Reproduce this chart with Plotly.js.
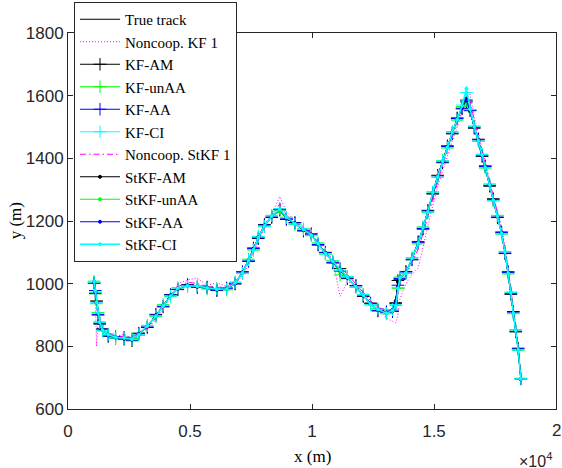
<!DOCTYPE html>
<html>
<head>
<meta charset="utf-8">
<script src="https://cdn.plot.ly/plotly-3.0.1.min.js"></script>
<style>html,body{margin:0;padding:0;background:#fff;}#chart{width:562px;height:468px;}</style>
</head>
<body>
<div id="chart"></div>
<script>
// ---- data ----
var trueX = [1070,1120,1170,1230,1300,1420,1650,1950,2300,2620,2900,3250,3600,3900,4200,4500,4900,5300,5700,6100,6500,6850,7150,7400,7600,7800,8050,8350,8680,8950,9300,9650,9970,10250,10550,10850,11150,11450,11800,12100,12400,12700,13050,13300,13430,13520,13600,13850,14100,14350,14550,14750,14950,15150,15350,15550,15750,15950,16150,16330,16480,16650,16820,16970,17100,17280,17430,17600,17770,17910,18040,18150,18250,18350,18450,18560];
var trueY = [1005,975,940,905,875,852,836,829,825,822,838,864,898,930,962,984,994,991,986,981,983,1002,1035,1075,1110,1148,1185,1215,1235,1209,1192,1172,1156,1127,1097,1070,1045,1020,991,963,935,917,907,915,935,990,1018,1035,1080,1130,1178,1230,1290,1342,1390,1436,1482,1525,1562,1588,1550,1500,1457,1410,1372,1315,1267,1215,1161,1100,1034,970,907,850,790,695];
var noncoopKF1Y = [1000,960,800,880,860,845,840,832,838,826,830,855,885,920,952,1000,1012,1018,995,1002,992,998,1025,1060,1100,1135,1180,1222,1278,1230,1200,1180,1160,1118,1092,1075,960,1005,1000,970,945,930,890,880,875,900,950,1000,1030,1050,1120,1190,1250,1310,1360,1410,1455,1500,1545,1590,1605,1530,1480,1430,1390,1330,1245,1230,1180,1120,1055,985,920,860,800,700];
var kfAMY = [1003,968,945,900,871,856,832,826,829,818,842,860,902,926,965,981,997,988,989,978,986,999,1038,1071,1114,1144,1189,1211,1238,1205,1195,1168,1159,1123,1100,1066,1048,1016,994,959,938,913,910,911,939,1010,1014,1039,1076,1134,1174,1234,1286,1346,1386,1440,1478,1529,1558,1580,1554,1496,1461,1406,1376,1311,1271,1211,1165,1096,1038,966,911,846,794,697];
var kfUnAAY = [1008,972,936,908,878,849,839,826,822,825,835,867,895,933,959,987,991,994,983,984,980,1005,1032,1078,1107,1151,1182,1218,1232,1212,1189,1175,1153,1130,1094,1073,1028,1023,988,966,932,920,904,918,931,985,1021,1032,1083,1127,1181,1227,1293,1339,1393,1433,1485,1522,1565,1584,1553,1503,1454,1413,1369,1318,1264,1218,1158,1103,1031,973,904,853,787,698];
var kfAAY = [1001,978,942,902,873,855,833,831,823,820,840,862,900,928,964,982,996,989,988,979,985,1000,1037,1073,1112,1146,1187,1213,1236,1207,1194,1170,1158,1125,1099,1068,1040,1018,993,961,937,915,909,913,937,995,1016,1037,1078,1132,1176,1232,1288,1344,1388,1438,1480,1527,1560,1586,1552,1498,1459,1408,1374,1313,1269,1213,1163,1098,1036,968,909,848,792,696];
var kfCIY = [1004,973,938,906,876,850,838,827,826,821,837,866,897,931,960,986,992,993,985,983,982,1004,1033,1076,1108,1150,1183,1217,1240,1211,1190,1174,1154,1129,1095,1072,1043,1022,989,965,933,919,905,917,933,988,1020,1033,1082,1128,1180,1228,1292,1340,1392,1434,1484,1523,1570,1610,1556,1502,1455,1412,1370,1317,1265,1217,1159,1102,1032,972,905,852,788,697];
var noncoopStKF1Y = [1006,980,930,895,868,858,842,835,830,826,845,858,890,925,958,990,1005,1000,992,988,990,1008,1030,1068,1104,1140,1178,1218,1255,1218,1198,1178,1162,1132,1105,1080,1052,1030,1000,972,945,925,915,905,915,960,1005,1025,1065,1110,1160,1215,1275,1330,1378,1425,1470,1512,1552,1582,1585,1520,1470,1425,1385,1328,1280,1228,1172,1112,1045,980,918,860,800,698];
var stkfAMY = [1004,974,941,904,874,853,835,828,825,821,839,863,899,929,963,983,995,990,987,980,984,1001,1036,1074,1111,1147,1186,1214,1234,1208,1193,1171,1157,1126,1098,1069,1046,1019,992,962,936,916,908,916,945,1005,1019,1036,1079,1131,1177,1231,1289,1343,1389,1437,1481,1526,1561,1590,1551,1499,1458,1409,1373,1314,1268,1214,1162,1099,1035,969,908,849,791,696];
var stkfUnAAY = [1005,976,939,906,876,851,837,829,826,822,837,865,897,931,961,985,993,992,985,982,982,1003,1034,1076,1109,1149,1184,1216,1230,1210,1191,1173,1155,1128,1096,1071,1044,1021,990,964,934,918,906,914,932,990,1017,1034,1081,1129,1179,1229,1291,1341,1391,1435,1483,1524,1563,1578,1549,1501,1456,1411,1371,1316,1266,1216,1160,1101,1033,971,906,851,789,696];
var stkfAAY = [1006,975,940,905,875,852,836,828,825,822,838,864,898,930,962,984,994,991,986,981,983,1002,1035,1075,1110,1148,1185,1215,1237,1209,1192,1172,1156,1127,1097,1070,1045,1020,991,963,935,917,907,915,936,992,1018,1035,1080,1130,1178,1230,1290,1342,1390,1436,1482,1525,1562,1585,1550,1500,1457,1410,1372,1315,1267,1215,1161,1100,1034,970,907,850,790,695];
var stkfCIY = [1007,977,941,907,877,851,837,829,827,823,837,865,896,929,960,985,993,992,986,982,983,1003,1034,1074,1108,1147,1184,1216,1238,1212,1191,1173,1155,1128,1096,1071,1045,1021,990,964,934,918,906,914,930,985,1019,1034,1081,1129,1179,1229,1291,1341,1391,1435,1483,1524,1568,1622,1557,1501,1456,1411,1371,1316,1266,1216,1160,1101,1033,971,906,851,789,696];

var seriesNames = ['True track','Noncoop. KF 1','KF-AM','KF-unAA','KF-AA','KF-CI','Noncoop. StKF 1','StKF-AM','StKF-unAA','StKF-AA','StKF-CI'];
var xTickVals = [0,5000,10000,15000,20000];
var xTickText = ['0','0.5','1','1.5','2'];
var yTickVals = [600,800,1000,1200,1400,1600,1800];
var xTitle = 'x (m)';
var yTitle = 'y (m)';
var xExponent = '×10<sup>4</sup>';

// ---- styles ----
var serif = 'Liberation Serif, Times New Roman, serif';
var sans = 'Liberation Sans, Arial, sans-serif';
function tr(name, y, color, dash, symbol, msize, width) {
  var t = {x: trueX, y: y, name: name, type: 'scatter',
    mode: symbol ? 'lines+markers' : 'lines',
    line: {color: color, width: width || 1, dash: dash || 'solid'}};
  if (symbol) {
    t.marker = {symbol: symbol, size: msize, color: color,
      line: {color: color, width: 1}};
  }
  return t;
}
var data = [
  tr(seriesNames[0], trueY, '#000000', 'solid', null, 0, 1.2),
  tr(seriesNames[1], noncoopKF1Y, '#ff00ff', '1px,2px', null, 0, 1),
  tr(seriesNames[2], kfAMY, '#000000', 'solid', 'cross-thin-open', 9, 1),
  tr(seriesNames[3], kfUnAAY, '#00ff00', 'solid', 'cross-thin-open', 9, 1),
  tr(seriesNames[4], kfAAY, '#0000ff', 'solid', 'cross-thin-open', 9, 1),
  tr(seriesNames[5], kfCIY, '#00ffff', 'solid', 'cross-thin-open', 9, 1),
  tr(seriesNames[6], noncoopStKF1Y, '#ff00ff', '6px,3px,1.5px,3px', null, 0, 1),
  tr(seriesNames[7], stkfAMY, '#000000', 'solid', 'circle', 3, 1),
  tr(seriesNames[8], stkfUnAAY, '#00ff00', 'solid', 'circle', 3, 1),
  tr(seriesNames[9], stkfAAY, '#0000ff', 'solid', 'circle', 3, 1),
  tr(seriesNames[10], stkfCIY, '#00ffff', 'solid', 'circle', 3, 1.5)
];

var tickFont = {family: sans, size: 17, color: '#262626'};
var axisCommon = {
  showgrid: false, zeroline: false, showline: true, linecolor: '#262626', linewidth: 1,
  mirror: 'ticks', ticks: 'inside', ticklen: 5, tickwidth: 1, tickcolor: '#262626',
  tickfont: tickFont, automargin: false, ticklabeloverflow: 'allow'
};
var layout = {
  width: 562, height: 468,
  margin: {l: 68, r: 6, t: 33, b: 59, autoexpand: false},
  paper_bgcolor: '#ffffff', plot_bgcolor: '#ffffff',
  showlegend: true,
  xaxis: Object.assign({}, axisCommon, {
    range: [0, 20000], tickmode: 'array',
    tickvals: xTickVals.slice(0, 4), ticktext: xTickText.slice(0, 4),
    ticklabelstandoff: 7
  }),
  yaxis: Object.assign({}, axisCommon, {
    range: [600, 1800], tickmode: 'array', tickvals: yTickVals
  }),
  legend: {
    xref: 'container', yref: 'container', x: 74/562, y: 1 - 2/468,
    xanchor: 'left', yanchor: 'top', maxheight: 400,
    bgcolor: '#ffffff', bordercolor: '#262626', borderwidth: 1,
    font: {family: serif, size: 15, color: '#000'},
    tracegroupgap: 0, itemwidth: 40
  },
  annotations: [
    // last x tick label (at the axis end) drawn as an annotation so it is not hidden
    {xref: 'x', yref: 'paper', x: xTickVals[4], y: -0.0585, xanchor: 'center', yanchor: 'middle',
     text: xTickText[4], showarrow: false, font: tickFont},
    {xref: 'paper', yref: 'paper', x: 0.5, y: -0.127, xanchor: 'center', yanchor: 'middle',
     text: xTitle, showarrow: false, font: {family: serif, size: 17, color: '#000'}},
    {xref: 'paper', yref: 'paper', x: -0.108, y: 0.5, xanchor: 'center', yanchor: 'middle',
     textangle: -90, text: yTitle, showarrow: false, font: {family: serif, size: 17, color: '#000'}},
    {xref: 'paper', yref: 'paper', x: 0.995, y: -0.136, xanchor: 'right', yanchor: 'middle',
     text: xExponent, showarrow: false, font: {family: sans, size: 16, color: '#262626'}}
  ]
};
Plotly.newPlot('chart', data, layout, {displayModeBar: false, staticPlot: true});
</script>
</body>
</html>
